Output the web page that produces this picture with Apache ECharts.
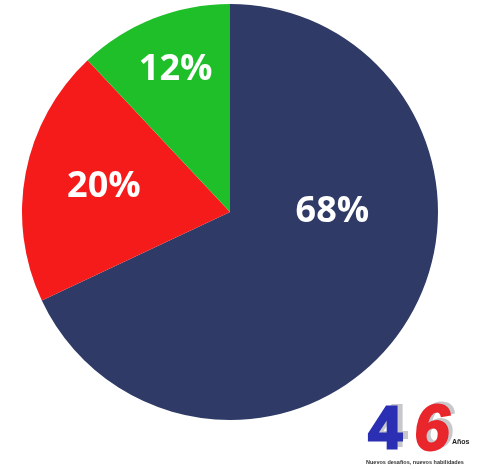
<!DOCTYPE html>
<html>
<head>
<meta charset="utf-8">
<script src="https://cdn.jsdelivr.net/npm/echarts@6/dist/echarts.min.js"></script>
<style>
html,body{margin:0;padding:0;background:#fff;}
#c{width:480px;height:469px;}
</style>
</head>
<body>
<div id="c"></div>
<script>
const categories = ['Azul', 'Rojo', 'Verde'];
const values = [68, 20, 12];
const labels = ['68%', '20%', '12%'];
const colors = ['#2f3b66', '#f51b1b', '#1fbf2a'];
const labelOffsets = [[12, -58], [-21, -5], [-15, -43]];

const chart = echarts.init(document.getElementById('c'), null, {renderer: 'canvas'});
chart.setOption({
  animation: false,
  backgroundColor: '#ffffff',
  series: [{
    type: 'pie',
    center: [230, 212],
    radius: [0, 208],
    startAngle: 90,
    clockwise: true,
    silent: true,
    data: categories.map((c, i) => ({
      name: c,
      value: values[i],
      itemStyle: {color: colors[i]},
      label: {offset: labelOffsets[i]}
    })),
    label: {
      show: true,
      position: 'inside',
      formatter: p => labels[p.dataIndex],
      color: '#ffffff',
      fontFamily: 'Open Sans',
      fontWeight: 'bold',
      fontSize: 36
    },
    labelLine: {show: false},
    itemStyle: {borderWidth: 0}
  }],
  graphic: [
    {type: 'text', left: 373, top: 398, style: {text: '4', fill: '#c8c8cc', stroke: '#c8c8cc', lineWidth: 2, font: 'bold 60px "Liberation Sans"'}},
    {type: 'text', left: 367, top: 400, style: {text: '4', fill: '#2b2fb3', stroke: '#2b2fb3', lineWidth: 3, font: 'bold 60px "Liberation Sans"'}},
    {type: 'text', left: 417, top: 397, style: {text: '6', fill: '#c8c8cc', stroke: '#c8c8cc', lineWidth: 2, font: 'italic bold 64px "Liberation Sans"'}},
    {type: 'text', left: 413, top: 399, style: {text: '6', fill: '#e8262b', stroke: '#e8262b', lineWidth: 2, font: 'italic bold 64px "Liberation Sans"'}},
    {type: 'text', left: 452, top: 439, style: {text: 'Años', fill: '#222', font: 'bold 7px "Liberation Sans"'}},
    {type: 'text', left: 366, top: 459, style: {text: 'Nuevos desafíos, nuevos habilidades', fill: '#333', font: 'bold 5.5px "Liberation Sans"'}}
  ]
});
</script>
</body>
</html>
